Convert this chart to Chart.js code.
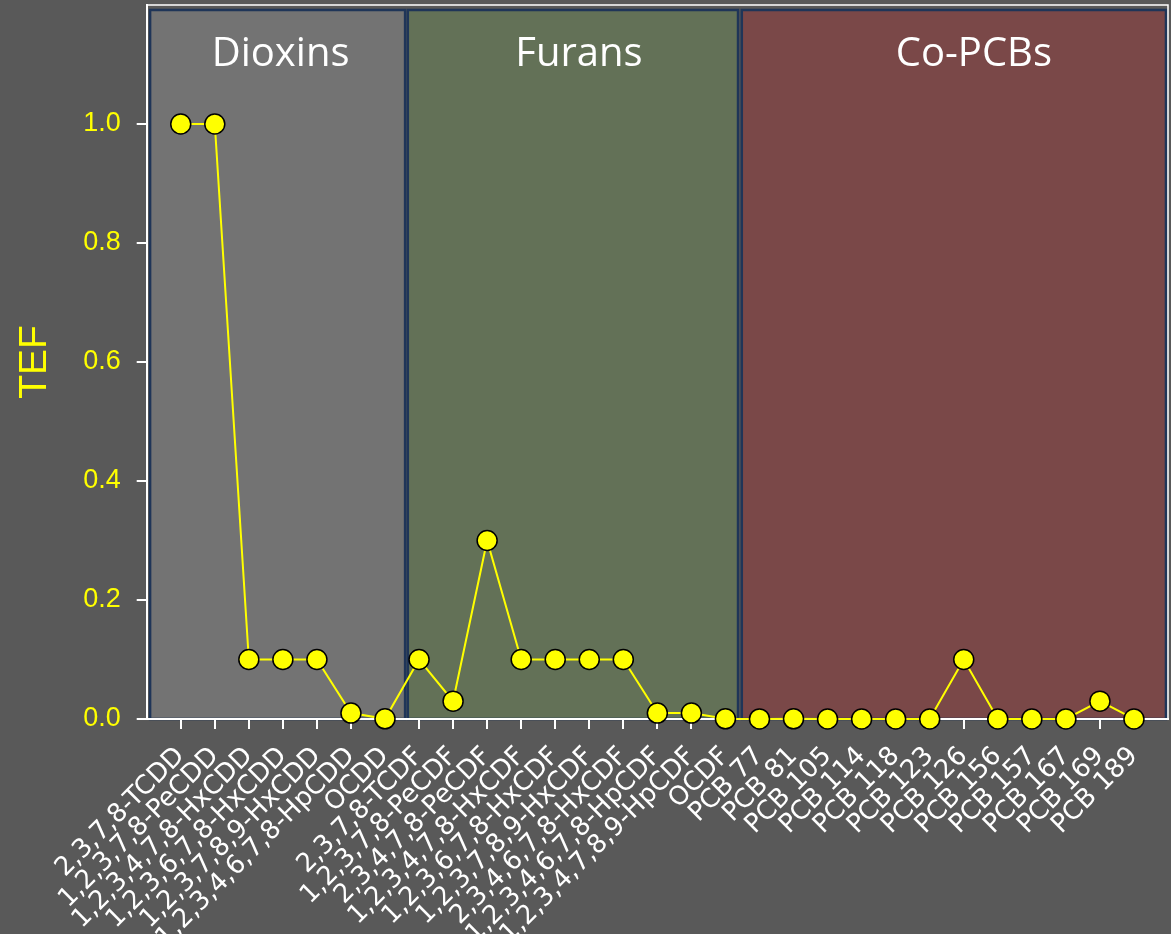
<!DOCTYPE html>
<html lang="en">
<head>
  <meta charset="UTF-8">
  <title>TEF by congener</title>
  <script src="https://cdn.jsdelivr.net/npm/chart.js@4/dist/chart.umd.min.js"></script>
  <style>
    html, body { margin: 0; padding: 0; background: #595959; }
    canvas { display: block; }
  </style>
</head>
<body>
  <canvas id="tefChart" width="1171" height="934"></canvas>
  <script>
    const congeners = [
      '2,3,7,8-TCDD', '1,2,3,7,8-PeCDD', '1,2,3,4,7,8-HxCDD', '1,2,3,6,7,8-HxCDD',
      '1,2,3,7,8,9-HxCDD', '1,2,3,4,6,7,8-HpCDD', 'OCDD',
      '2,3,7,8-TCDF', '1,2,3,7,8-PeCDF', '2,3,4,7,8-PeCDF', '1,2,3,4,7,8-HxCDF',
      '1,2,3,6,7,8-HxCDF', '1,2,3,7,8,9-HxCDF', '2,3,4,6,7,8-HxCDF',
      '1,2,3,4,6,7,8-HpCDF', '1,2,3,4,7,8,9-HpCDF', 'OCDF',
      'PCB 77', 'PCB 81', 'PCB 105', 'PCB 114', 'PCB 118', 'PCB 123',
      'PCB 126', 'PCB 156', 'PCB 157', 'PCB 167', 'PCB 169', 'PCB 189'
    ];
    const tefValues = [
      1, 1, 0.1, 0.1, 0.1, 0.01, 0.0003,
      0.1, 0.03, 0.3, 0.1, 0.1, 0.1, 0.1, 0.01, 0.01, 0.0003,
      0.0001, 0.0003, 0.00003, 0.00003, 0.00003, 0.00003,
      0.1, 0.00003, 0.00003, 0.00003, 0.03, 0.00003
    ];
    const groupNames = ['Dioxins', 'Furans', 'Co-PCBs'];
    const groupSizes = [7, 10, 12];
    const groupColors = ['#737373', '#637157', '#7a4848'];
    const yMax = 1.2;
    const yTickTop = 1.0;

    const ink = '#ffff00';

    // coloured group panels behind the line, drawn before the axes
    const panelLeft = [-0.9, -0.33, -0.52];
    const panelRight = [0.59, 0.37, 0.94];
    const titleShift = [3, 6, 20];
    const groupPanels = {
      id: 'groupPanels',
      beforeDraw(chart) {
        const { ctx, chartArea: a, scales: { x } } = chart;
        ctx.save();
        let first = 0;
        groupSizes.forEach((n, g) => {
          const last = first + n - 1;
          const x0 = x.getPixelForValue(first + panelLeft[g]);
          const x1 = x.getPixelForValue(last + panelRight[g]);
          const y0 = a.top + 5;
          ctx.fillStyle = groupColors[g];
          ctx.fillRect(x0, y0, x1 - x0, a.bottom - y0);
          ctx.strokeStyle = '#1f3558';
          ctx.lineWidth = 2.5;
          ctx.strokeRect(x0, y0, x1 - x0, a.bottom - y0);
          ctx.fillStyle = '#ffffff';
          ctx.font = '40px "Open Sans"';
          ctx.textAlign = 'center';
          ctx.textBaseline = 'alphabetic';
          ctx.fillText(groupNames[g], (x0 + x1) / 2 + titleShift[g], a.top + 61);
          first += n;
        });
        // frame on top and right of the plot
        ctx.strokeStyle = '#ffffff';
        ctx.lineWidth = 1.5;
        ctx.beginPath();
        ctx.moveTo(a.left, a.top);
        ctx.lineTo(a.right, a.top);
        ctx.lineTo(a.right, a.bottom);
        ctx.stroke();
        ctx.restore();
      }
    };

    Chart.defaults.font.family = '"Liberation Sans", Arial, sans-serif';

    new Chart(document.getElementById('tefChart'), {
      type: 'line',
      data: {
        datasets: [{
          label: 'TEF',
          data: tefValues.map((v, i) => ({ x: i, y: v })),
          borderColor: ink,
          borderWidth: 2,
          tension: 0,
          pointRadius: 10,
          pointBackgroundColor: ink,
          pointBorderColor: '#000000',
          pointBorderWidth: 1.5,
          clip: false
        }]
      },
      options: {
        responsive: false,
        animation: false,
        layout: { autoPadding: false, padding: { top: 5, right: 3, left: 0, bottom: 0 } },
        plugins: { legend: { display: false }, tooltip: { enabled: false } },
        scales: {
          x: {
            type: 'linear',
            min: -1,
            max: congeners.length,
            afterFit: s => {
              s.height = 215;
              s.paddingLeft = 0;
              s.paddingRight = 0;
            },
            grid: {
              drawOnChartArea: false,
              tickLength: 10,
              lineWidth: 2,
              color: c => (c.tick && c.tick.value >= 0 && c.tick.value < congeners.length) ? '#ffffff' : 'rgba(0,0,0,0)'
            },
            border: { color: '#ffffff', width: 2 },
            ticks: {
              stepSize: 1,
              autoSkip: false,
              maxRotation: 45,
              minRotation: 45,
              padding: 12,
              color: '#ffffff',
              font: { family: '"DejaVu Sans", sans-serif', size: 26 },
              callback: v => congeners[v] ?? ''
            }
          },
          y: {
            min: 0,
            max: yMax,
            afterFit: s => {
              s.width = 146.7;
              s.paddingTop = 0;
              s.paddingBottom = 0;
            },
            grid: {
              drawOnChartArea: false,
              tickLength: 10,
              lineWidth: 2,
              color: c => (c.tick && c.tick.value <= yTickTop + 0.001) ? '#ffffff' : 'rgba(0,0,0,0)'
            },
            border: { color: '#ffffff', width: 2 },
            ticks: {
              stepSize: 0.2,
              padding: 16,
              color: ink,
              font: { size: 27 },
              callback: v => v <= yTickTop + 0.001 ? v.toFixed(1) : ''
            },
            title: {
              display: true,
              text: 'TEF',
              color: ink,
              font: { size: 39 },
              padding: { top: 12, bottom: 0 }
            }
          }
        }
      },
      plugins: [groupPanels]
    });
  </script>
</body>
</html>
